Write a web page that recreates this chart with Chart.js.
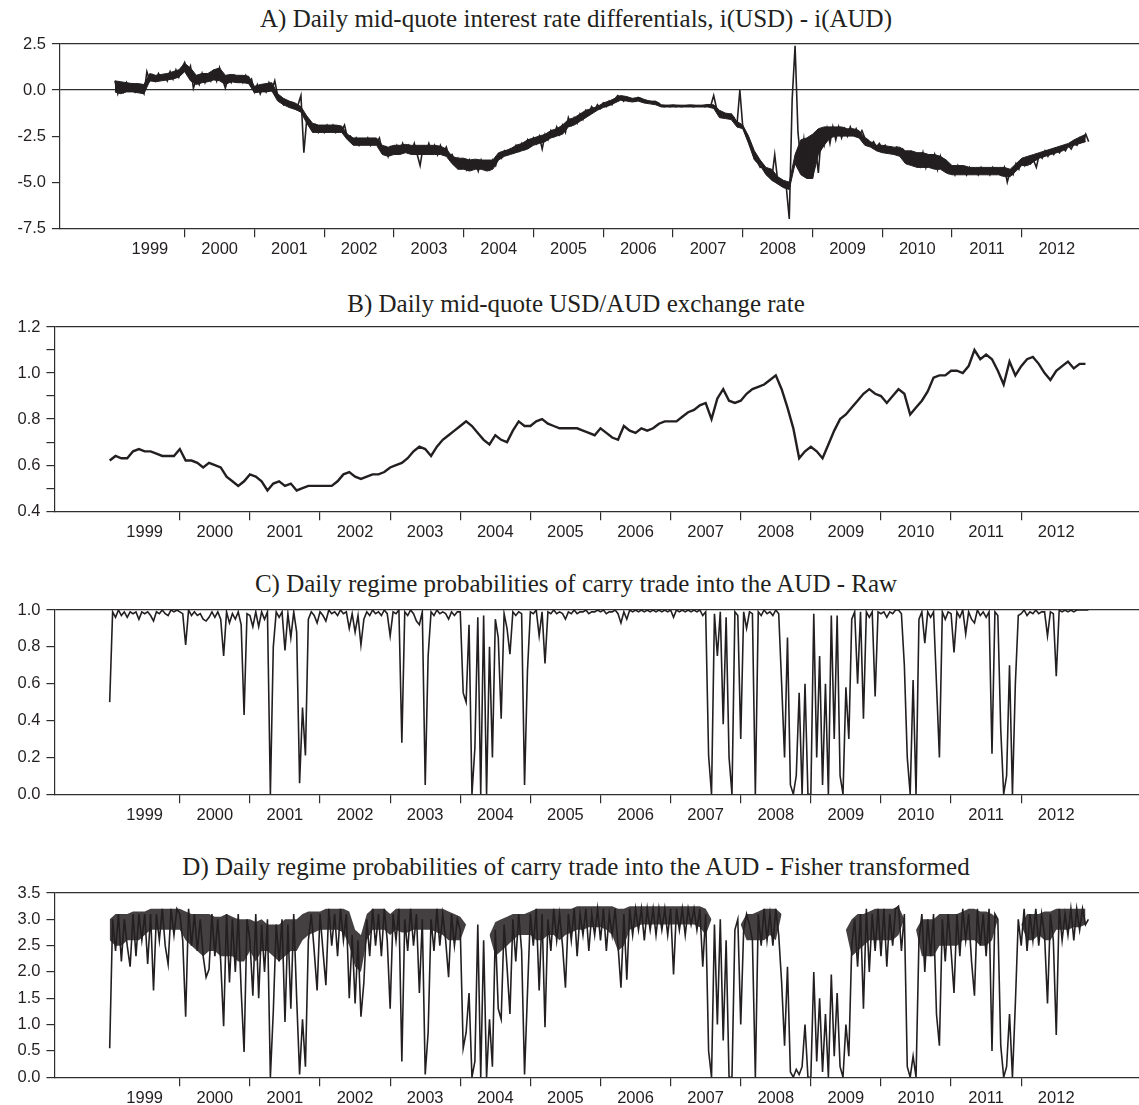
<!DOCTYPE html>
<html>
<head>
<meta charset="utf-8">
<script src="https://cdn.jsdelivr.net/npm/chart.js@4/dist/chart.umd.min.js"></script>
<style>
  body { margin: 0; background: #fff; width: 1139px; height: 1105px; position: relative; overflow: hidden; }
  .title { position: absolute; left: 0; width: 1152px; text-align: center; color: #231f20;
           font: 25px/25px 'Liberation Serif', 'Times New Roman', serif; white-space: nowrap; }
  .panel { position: absolute; left: 0; width: 1139px; height: 235px; }
</style>
</head>
<body>
<div class="title" style="top:6px">A) Daily mid-quote interest rate differentials, i(USD) - i(AUD)</div>
<div class="panel" style="top:28px"><canvas id="chartA"></canvas></div>
<div class="title" style="top:291px">B) Daily mid-quote USD/AUD exchange rate</div>
<div class="panel" style="top:311px"><canvas id="chartB"></canvas></div>
<div class="title" style="top:571px">C) Daily regime probabilities of carry trade into the AUD - Raw</div>
<div class="panel" style="top:594px"><canvas id="chartC"></canvas></div>
<div class="title" style="top:854px">D) Daily regime probabilities of carry trade into the AUD - Fisher transformed</div>
<div class="panel" style="top:877px"><canvas id="chartD"></canvas></div>
<script>
// year labels on the time axis
const yearTicks = [1999, 2000, 2001, 2002, 2003, 2004, 2005, 2006, 2007, 2008, 2009, 2010, 2011, 2012];

// A) i(USD) - i(AUD), read off twice a month (high / low swings and spikes)
const diffA = [
  0.5, -0.2, 0.3, -0.1, 0.4, 0.0, 0.3, -0.1, 0.2, 0.1, -0.2, 1.0, 0.5, 0.8, 0.5, 0.9, 0.6, 0.8, 0.5, 1.0, 0.6, 1.1, 0.7, 1.2,
  1.5, 0.9, 1.3, 0.1, 0.6, 0.3, 0.9, 0.4, 0.8, 0.5, 1.0, 0.5, 1.2, 0.6, 0.1, 0.7, 0.4, 0.8, 0.5, 0.7, 0.4, 0.8, 0.4, 0.6,
  -0.1, 0.3, -0.2, 0.2, -0.1, 0.4, 0.0, 0.5, -0.3, -0.5, -0.8, -0.6, -0.9, -0.7, -1.0, -0.8, -0.3, -3.4, -1.6, -1.8, -2.2, -1.9, -2.3, -2.0,
  -2.3, -1.9, -2.2, -1.9, -2.3, -2.0, -2.2, -1.9, -2.6, -2.5, -2.9, -2.6, -3.0, -2.7, -2.9, -2.6, -3.0, -2.7, -2.9, -2.6, -3.3, -3.1, -3.6, -3.1,
  -3.4, -3.0, -3.4, -2.9, -3.3, -3.0, -3.4, -2.9, -3.5, -4.1, -3.1, -3.4, -2.9, -3.4, -3.0, -3.5, -3.0, -3.4, -3.1, -3.6, -3.5, -3.9, -3.7, -4.1,
  -3.8, -4.3, -3.8, -4.2, -3.9, -4.4, -3.8, -4.2, -3.9, -4.3, -3.8, -4.1, -3.5, -3.7, -3.3, -3.5, -3.2, -3.4, -3.0, -3.3, -2.9, -3.2, -2.7, -3.0,
  -2.6, -2.9, -2.5, -3.2, -2.4, -2.7, -2.2, -2.5, -2.0, -2.4, -1.9, -2.3, -1.5, -1.9, -1.5, -1.8, -1.3, -1.6, -1.1, -1.3, -0.9, -1.1, -0.8, -1.0,
  -0.7, -0.9, -0.6, -0.8, -0.5, -0.3, -0.4, -0.6, -0.4, -0.5, -0.5, -0.6, -0.4, -0.45, -0.6, -0.65, -0.6, -0.7, -0.65, -0.7, -0.85, -0.9, -0.85, -0.9,
  -0.85, -0.9, -0.85, -0.9, -0.85, -0.88, -0.85, -0.9, -0.86, -0.88, -0.85, -0.9, -0.8, -0.85, -0.3, -1.0, -1.3, -1.4, -1.3, -1.5, -1.3, -1.5, -1.9, 0.0,
  -2.0, -2.4, -2.8, -3.2, -3.7, -3.9, -4.2, -4.1, -4.5, -4.4, -4.8, -3.5, -4.9, -5.0, -5.2, -5.3, -7.0, -0.5, 2.4, -2.3, -3.9, -2.7, -4.6, -2.8,
  -4.8, -3.0, -4.5, -2.5, -3.0, -2.1, -2.9, -2.0, -2.7, -2.0, -2.6, -2.1, -2.5, -2.0, -2.4, -2.1, -2.5, -2.2, -2.6, -2.7, -3.0, -2.8, -3.1, -2.9,
  -3.2, -3.0, -3.3, -3.1, -3.4, -3.1, -3.3, -3.2, -3.5, -3.8, -3.4, -4.0, -3.5, -4.1, -3.4, -4.2, -3.6, -4.0, -3.5, -4.3, -3.6, -4.2, -3.9, -4.5,
  -4.2, -4.6, -4.1, -4.5, -4.2, -4.6, -4.2, -4.5, -4.3, -4.6, -4.2, -4.5, -4.3, -4.6, -4.2, -4.5, -4.3, -4.6, -4.2, -5.0, -4.4, -4.6, -4.0, -4.3,
  -3.8, -4.1, -3.7, -4.0, -3.8, -4.2, -3.5, -3.7, -3.3, -3.6, -3.3, -3.5, -3.2, -3.4, -3.1, -3.3, -3.0, -3.2, -2.9, -3.0, -2.6, -2.8, -2.4, -2.8
];
// A) upper and lower edge of the dense daily band, monthly
const diffABandTop = [
  0.5, 0.45, 0.4, 0.35, 0.35, 0.3, 0.9, 0.8, 0.85, 0.9, 1.0, 1.1,
  1.45, 1.2, 0.8, 0.9, 0.9, 1.1, 1.2, 0.8, 0.85, 0.8, 0.8, 0.75,
  0.2, 0.3, 0.35, 0.4, -0.2, -0.45, -0.6, -0.7, -0.9, -1.4, -1.8, -1.9,
  -1.9, -1.9, -1.9, -1.95, -2.4, -2.6, -2.6, -2.6, -2.6, -2.6, -3.0, -3.1,
  -3.0, -3.0, -2.95, -3.0, -3.0, -3.0, -3.0, -3.0, -3.05, -3.2, -3.6, -3.7,
  -3.7, -3.8, -3.75, -3.8, -3.8, -3.8, -3.4, -3.3, -3.2, -3.0, -2.9, -2.7,
  -2.6, -2.5, -2.4, -2.2, -2.1, -1.9, -1.6, -1.5, -1.3, -1.1, -1.0, -0.9,
  -0.7, -0.6, -0.45, -0.3, -0.35, -0.45, -0.4, -0.5, -0.6, -0.6, -0.8, -0.82,
  -0.8, -0.82, -0.82, -0.8, -0.82, -0.82, -0.78, -0.8, -1.1, -1.25, -1.3, -1.7,
  -1.9, -2.5, -3.3, -3.8, -4.2, -4.3, -4.7, -4.9, -5.0, -3.5, -2.7, -2.6,
  -2.4, -2.1, -2.0, -2.0, -2.0, -2.0, -2.1, -2.1, -2.2, -2.6, -2.8, -3.0,
  -3.0, -3.05, -3.1, -3.1, -3.3, -3.3, -3.4, -3.4, -3.5, -3.5, -3.6, -3.8,
  -4.1, -4.1, -4.1, -4.2, -4.2, -4.2, -4.2, -4.2, -4.2, -4.2, -4.3, -4.0,
  -3.7, -3.6, -3.5, -3.4, -3.3, -3.2, -3.1, -3.0, -2.9, -2.7, -2.55, -2.4
];
const diffABandBottom = [
  -0.1, -0.2, -0.1, -0.1, -0.15, -0.2, 0.5, 0.45, 0.5, 0.55, 0.6, 0.7,
  1.0, 0.5, 0.3, 0.4, 0.45, 0.55, 0.5, 0.3, 0.45, 0.4, 0.4, 0.35,
  -0.15, -0.1, -0.1, -0.05, -0.6, -0.8, -0.95, -1.05, -1.2, -1.8, -2.3, -2.3,
  -2.3, -2.3, -2.3, -2.3, -2.7, -3.0, -3.0, -3.0, -3.0, -3.0, -3.5, -3.6,
  -3.5, -3.5, -3.4, -3.5, -3.5, -3.5, -3.5, -3.5, -3.5, -3.6, -4.0, -4.3,
  -4.3, -4.4, -4.3, -4.3, -4.4, -4.3, -3.8, -3.6, -3.5, -3.4, -3.3, -3.2,
  -3.0, -2.9, -2.8, -2.6, -2.5, -2.4, -2.0, -1.9, -1.7, -1.5, -1.3, -1.1,
  -0.95, -0.85, -0.7, -0.55, -0.6, -0.65, -0.6, -0.7, -0.75, -0.8, -0.92, -0.92,
  -0.92, -0.92, -0.92, -0.92, -0.92, -0.92, -0.92, -1.0, -1.5, -1.55, -1.6, -2.0,
  -2.1, -2.9, -3.8, -4.1, -4.6, -4.9, -5.1, -5.3, -5.4, -4.0, -4.6, -4.8,
  -4.8, -3.5, -3.0, -2.6, -2.5, -2.5, -2.5, -2.5, -2.6, -3.0, -3.1, -3.3,
  -3.4, -3.45, -3.5, -3.6, -4.0, -4.1, -4.2, -4.2, -4.2, -4.3, -4.3, -4.5,
  -4.6, -4.6, -4.6, -4.6, -4.6, -4.6, -4.6, -4.6, -4.6, -4.7, -4.7, -4.4,
  -4.1, -4.1, -3.9, -3.7, -3.6, -3.5, -3.4, -3.3, -3.1, -3.0, -2.9, -2.8
];

// B) USD/AUD, one reading per month
const fxB = [
  0.62, 0.64, 0.63, 0.63, 0.66, 0.67, 0.66, 0.66, 0.65, 0.64, 0.64, 0.64,
  0.67, 0.62, 0.62, 0.61, 0.59, 0.61, 0.60, 0.59, 0.55, 0.53, 0.51, 0.53,
  0.56, 0.55, 0.53, 0.49, 0.52, 0.53, 0.51, 0.52, 0.49, 0.50, 0.51, 0.51,
  0.51, 0.51, 0.51, 0.53, 0.56, 0.57, 0.55, 0.54, 0.55, 0.56, 0.56, 0.57,
  0.59, 0.60, 0.61, 0.63, 0.66, 0.68, 0.67, 0.64, 0.68, 0.71, 0.73, 0.75,
  0.77, 0.79, 0.77, 0.74, 0.71, 0.69, 0.73, 0.71, 0.70, 0.75, 0.79, 0.77,
  0.77, 0.79, 0.80, 0.78, 0.77, 0.76, 0.76, 0.76, 0.76, 0.75, 0.74, 0.73,
  0.76, 0.74, 0.72, 0.71, 0.77, 0.75, 0.74, 0.76, 0.75, 0.76, 0.78, 0.79,
  0.79, 0.79, 0.81, 0.83, 0.84, 0.86, 0.87, 0.80, 0.89, 0.93, 0.88, 0.87,
  0.88, 0.91, 0.93, 0.94, 0.95, 0.97, 0.99, 0.93, 0.85, 0.76, 0.63, 0.66,
  0.68, 0.66, 0.63, 0.69, 0.75, 0.80, 0.82, 0.85, 0.88, 0.91, 0.93, 0.91,
  0.90, 0.87, 0.90, 0.93, 0.91, 0.82, 0.85, 0.88, 0.92, 0.98, 0.99, 0.99,
  1.01, 1.01, 1.00, 1.03, 1.10, 1.06, 1.08, 1.06, 1.01, 0.95, 1.05, 0.99,
  1.03, 1.06, 1.07, 1.04, 1.00, 0.97, 1.01, 1.03, 1.05, 1.02, 1.04, 1.04
];

// C) raw regime probabilities, twice a month
const rawC = [
  0.5, 0.99, 0.96, 1.0, 0.97, 0.99, 0.96, 0.99, 0.98, 0.99, 0.95, 0.99, 0.98, 0.99, 0.97, 0.94, 0.99, 0.98, 1.0, 0.98, 0.97, 1.0, 0.99, 1.0,
  0.99, 0.98, 0.81, 1.0, 0.97, 0.99, 0.97, 0.98, 0.95, 0.94, 0.96, 0.99, 0.96, 0.99, 0.95, 0.75, 0.99, 0.93, 0.98, 0.95, 0.99, 0.92, 0.43, 0.98,
  0.97, 0.91, 0.99, 0.91, 0.99, 0.95, 0.99, 0.0, 0.8, 0.99, 0.96, 0.99, 0.78, 0.98, 0.85, 0.99, 0.88, 0.06, 0.47, 0.21, 0.95, 0.99, 0.97, 0.93,
  0.99, 0.97, 0.94, 1.0, 0.98, 0.99, 0.97, 1.0, 0.98, 0.99, 0.9, 0.98, 0.88, 0.97, 0.81, 0.95, 0.99, 0.97, 1.0, 0.98, 0.99, 0.97, 1.0, 0.98,
  0.86, 0.99, 0.98, 1.0, 0.28, 0.99, 0.97, 1.0, 0.98, 0.94, 0.92, 0.99, 0.05, 0.75, 0.99, 0.97, 1.0, 0.98, 0.99, 0.98, 0.95, 0.99, 0.97, 0.99,
  0.99, 0.55, 0.5, 0.92, 0.0, 0.25, 0.96, 0.0, 0.97, 0.0, 0.8, 0.2, 0.95, 0.85, 0.41, 0.98, 0.9, 0.76, 0.99, 0.97, 0.99, 0.98, 0.05, 0.67,
  0.99, 0.98, 1.0, 0.86, 0.99, 0.71, 0.99, 0.98, 1.0, 0.98, 0.99, 0.98, 0.95, 0.99, 0.98, 1.0, 0.98, 0.99, 0.99, 1.0, 0.98, 0.99, 0.99, 1.0,
  0.99, 1.0, 0.98, 0.99, 0.99, 1.0, 0.98, 0.93, 0.99, 0.95, 1.0, 0.99, 1.0, 0.99, 1.0, 0.99, 1.0, 0.99, 1.0, 0.99, 1.0, 0.99, 1.0, 0.99,
  1.0, 0.96, 1.0, 0.99, 1.0, 0.99, 1.0, 0.99, 1.0, 0.99, 1.0, 0.97, 0.99, 0.21, 0.0, 0.98, 0.75, 0.99, 0.38, 0.96, 0.2, 0.0, 0.99, 0.97,
  0.3, 0.99, 0.9, 0.99, 0.98, 0.0, 0.99, 0.97, 1.0, 0.98, 0.99, 0.97, 1.0, 0.98, 0.6, 0.2, 0.85, 0.05, 0.0, 0.1, 0.55, 0.0, 0.6, 0.0,
  0.0, 0.98, 0.2, 0.75, 0.05, 0.6, 0.0, 0.97, 0.3, 0.97, 0.1, 0.0, 0.58, 0.3, 0.95, 0.99, 0.6, 0.99, 0.41, 0.99, 0.96, 0.99, 0.53, 0.99,
  0.98, 0.99, 0.96, 0.99, 0.98, 1.0, 1.0, 0.98, 0.7, 0.2, 0.0, 0.62, 0.0, 0.95, 0.99, 0.82, 0.99, 0.96, 0.99, 0.6, 0.2, 0.99, 0.95, 0.99,
  0.98, 0.77, 0.99, 0.96, 1.0, 0.87, 0.99, 0.95, 0.93, 1.0, 0.97, 0.99, 0.96, 0.99, 0.22, 0.99, 0.97, 0.35, 0.0, 0.1, 0.7, 0.0, 0.6, 0.97,
  0.98, 1.0, 0.97, 0.99, 0.98, 1.0, 0.98, 0.99, 0.99, 0.86, 0.99, 0.98, 0.64, 1.0, 0.99, 1.0, 0.99, 1.0, 0.99, 1.0, 1.0, 1.0, 1.0, 1.0
];

// D) Fisher transformed probabilities, twice a month
const fisherD = [
  0.55, 3.0, 2.4, 3.1, 2.2, 3.0, 2.5, 2.1, 3.1, 2.3, 3.1, 2.6, 3.1, 2.15, 3.1, 1.65, 3.1, 2.6, 3.2, 2.5, 2.15, 3.2, 2.7, 3.2,
  3.1, 2.6, 1.15, 3.2, 2.5, 3.1, 2.4, 3.0, 2.3, 1.9, 2.05, 3.1, 2.3, 3.0, 2.2, 0.97, 3.1, 1.8, 3.0, 2.0, 3.1, 1.65, 0.48, 3.0,
  2.6, 1.55, 3.1, 1.5, 2.9, 2.0, 3.0, 0.0, 1.25, 2.9, 2.2, 3.0, 1.05, 2.9, 1.3, 3.1, 1.5, 0.05, 1.1, 0.2, 2.6, 3.1, 2.4, 1.65,
  3.1, 2.4, 1.75, 3.2, 2.5, 3.1, 2.3, 3.2, 2.6, 3.1, 1.5, 2.7, 1.4, 2.6, 1.15, 1.8, 3.0, 2.3, 3.2, 2.5, 3.1, 2.3, 3.2, 2.6,
  1.3, 3.1, 2.6, 3.2, 0.3, 3.0, 2.4, 3.2, 2.5, 3.1, 1.6, 3.0, 0.05, 0.85, 3.0, 2.4, 3.2, 2.5, 3.1, 2.6, 1.9, 3.1, 2.5, 3.0,
  2.8, 0.55, 0.85, 1.6, 0.0, 0.3, 2.9, 0.0, 2.6, 0.0, 1.1, 0.2, 2.8, 1.3, 1.1, 2.9, 2.1, 1.2, 3.0, 2.2, 3.1, 2.4, 0.05, 1.6,
  3.1, 2.5, 3.2, 1.65, 3.1, 0.95, 3.0, 2.4, 3.2, 2.6, 3.1, 2.5, 1.7, 3.1, 2.6, 3.2, 2.3, 3.1, 2.7, 3.2, 2.4, 3.1, 2.7, 3.2,
  2.6, 3.2, 2.4, 3.1, 2.7, 3.2, 2.5, 1.7, 3.1, 1.85, 3.2, 2.7, 3.2, 2.8, 3.2, 2.6, 3.2, 2.8, 3.2, 2.7, 3.2, 2.8, 3.2, 2.7,
  3.2, 1.95, 3.2, 2.8, 3.2, 2.7, 3.2, 2.9, 3.2, 2.8, 3.2, 2.1, 3.1, 0.5, 0.0, 2.9, 1.0, 3.0, 0.7, 2.6, 0.0, 0.0, 2.8, 3.0,
  1.0, 2.8, 3.1, 2.9, 2.6, 0.0, 3.1, 2.5, 3.2, 2.6, 3.1, 2.5, 3.2, 2.7, 1.8, 0.6, 2.1, 0.1, 0.0, 0.15, 0.05, 0.2, 1.0, 0.0,
  0.0, 2.0, 0.3, 1.5, 0.1, 1.2, 0.0, 1.95, 0.4, 1.6, 0.2, 0.0, 1.0, 0.4, 2.5, 3.0, 2.1, 3.1, 1.3, 3.2, 2.0, 3.1, 2.4, 3.2,
  2.3, 3.2, 2.1, 3.1, 2.5, 3.2, 3.25, 2.4, 3.1, 0.2, 0.0, 0.4, 0.0, 2.6, 3.1, 2.0, 3.0, 2.3, 3.1, 1.2, 0.6, 3.0, 2.2, 3.1,
  2.4, 1.6, 3.1, 2.3, 3.2, 2.6, 3.1, 2.2, 1.55, 3.2, 2.5, 3.1, 2.3, 3.2, 0.5, 3.1, 3.0, 0.6, 0.0, 0.2, 1.2, 0.0, 1.4, 3.0,
  2.5, 3.2, 2.4, 3.1, 2.6, 3.2, 2.5, 3.1, 2.7, 1.4, 3.1, 2.6, 0.8, 3.2, 2.6, 3.1, 2.7, 3.2, 2.6, 3.2, 2.8, 3.2, 2.9, 3.0
];
// D) upper and lower edge of the dense daily band, monthly (null where it breaks)
const fisherDBandTop = [
  3.0, 3.1, 3.1, 3.1, 3.15, 3.15, 3.15, 3.2, 3.2, 3.2, 3.2, 3.2,
  3.2, 3.15, 3.1, 3.1, 3.1, 3.1, 3.05, 3.05, 3.1, 3.05, 3.0, 3.0,
  3.0, 2.95, 3.0, 2.9, 2.9, 2.9, 3.0, 3.0, 3.0, 3.1, 3.15, 3.15,
  3.15, 3.2, 3.2, 3.2, 3.2, 3.15, 2.8, 2.7, 3.1, 3.2, 3.2, 3.2,
  3.1, 3.2, 3.2, 3.2, 3.2, 3.2, 3.2, 3.2, 3.2, 3.2, 3.15, 3.1,
  3.05, 2.9, null, null, null, 2.7, 2.95, 3.0, 3.05, 3.1, 3.1, 3.1,
  3.15, 3.2, 3.2, 3.2, 3.2, 3.2, 3.2, 3.2, 3.25, 3.25, 3.25, 3.25,
  3.25, 3.25, 3.25, 3.2, 3.2, 3.25, 3.25, 3.25, 3.25, 3.25, 3.25, 3.25,
  3.25, 3.25, 3.25, 3.25, 3.25, 3.25, 3.2, 3.0, null, null, null, null,
  2.9, 3.1, 3.1, 3.15, 3.2, 3.2, 3.2, 3.1, null, null, null, null,
  null, null, null, null, null, null, 2.8, 3.0, 3.1, 3.1, 3.15, 3.2,
  3.2, 3.2, 3.2, 3.25, 3.0, null, 2.8, 3.0, 3.0, 3.0, 3.1, 3.1,
  3.1, 3.1, 3.15, 3.2, 3.2, 3.15, 3.15, 3.1, 3.0, null, null, null,
  2.9, 3.1, 3.1, 3.1, 3.15, 3.15, 3.2, 3.2, 3.2, 3.2, 3.2, 3.2
];
const fisherDBandBottom = [
  2.6, 2.5, 2.5, 2.6, 2.6, 2.6, 2.7, 2.8, 2.8, 2.8, 2.8, 2.8,
  2.8, 2.6, 2.5, 2.4, 2.3, 2.4, 2.4, 2.3, 2.3, 2.3, 2.2, 2.2,
  2.4, 2.2, 2.4, 2.4, 2.3, 2.2, 2.3, 2.4, 2.4, 2.6, 2.7, 2.75,
  2.8, 2.8, 2.8, 2.8, 2.75, 2.5, 2.1, 2.0, 2.6, 2.8, 2.8, 2.8,
  2.7, 2.8, 2.75, 2.75, 2.8, 2.8, 2.8, 2.8, 2.75, 2.7, 2.6, 2.6,
  2.6, 2.9, null, null, null, 2.7, 2.3, 2.4, 2.5, 2.6, 2.7, 2.7,
  2.7, 2.6, 2.6, 2.7, 2.7, 2.6, 2.7, 2.75, 2.8, 2.8, 2.85, 2.85,
  2.85, 2.8, 2.7, 2.4, 2.5, 2.8, 2.85, 2.9, 2.9, 2.9, 2.9, 2.9,
  2.9, 2.9, 2.9, 2.9, 2.9, 2.85, 2.7, 3.0, null, null, null, null,
  2.9, 2.6, 2.6, 2.6, 2.6, 2.7, 2.6, 3.1, null, null, null, null,
  null, null, null, null, null, null, 2.8, 2.3, 2.4, 2.5, 2.6, 2.6,
  2.6, 2.6, 2.6, 2.7, 3.0, null, 2.8, 2.3, 2.3, 2.3, 2.5, 2.5,
  2.5, 2.5, 2.6, 2.6, 2.6, 2.5, 2.5, 2.6, 3.0, null, null, null,
  2.9, 2.6, 2.6, 2.7, 2.6, 2.6, 2.8, 2.8, 2.8, 2.85, 2.85, 2.9
];

// y-axis ticks (labelled ones listed separately)
const yTicksA = [-7.5, -5.0, -2.5, 0.0, 2.5];
const yTicksB = [0.4, 0.5, 0.6, 0.7, 0.8, 0.9, 1.0, 1.1, 1.2];
const yLabelsB = [0.4, 0.6, 0.8, 1.0, 1.2];
const yTicksC = [0.0, 0.2, 0.4, 0.6, 0.8, 1.0];
const yTicksD = [0.0, 0.5, 1.0, 1.5, 2.0, 2.5, 3.0, 3.5];

const INK = '#231f20';
const AXIS = '#2e2e2e';
const NONE = 'rgba(0,0,0,0)';
const tickFont = { family: "'Liberation Sans', Arial, sans-serif", size: 16.5 };

function toPoints(values, perYear) {
  return values.map((v, i) => ({ x: 1999 + i / perYear, y: v }));
}

function near(a, b) { return Math.abs(a - b) < 1e-6; }

function lineSet(points, width) {
  return { data: points, borderColor: INK, borderWidth: width, pointRadius: 0, tension: 0, fill: false };
}

// dense daily noise drawn as a filled band between two monthly edges
function bandSets(top, bottom, shade, edge) {
  return [
    { data: toPoints(top, 12), borderColor: shade, borderWidth: edge, backgroundColor: shade, pointRadius: 0, tension: 0, fill: '+1' },
    { data: toPoints(bottom, 12), borderColor: shade, borderWidth: edge, pointRadius: 0, tension: 0, fill: false }
  ];
}

function makePanel(id, datasets, cfg) {
  const yMin = cfg.ticks[0], yMax = cfg.ticks[cfg.ticks.length - 1];
  const labelled = cfg.labels || cfg.ticks;
  new Chart(document.getElementById(id), {
    type: 'line',
    data: { datasets: datasets },
    options: {
      responsive: true, maintainAspectRatio: false, animation: false,
      layout: { padding: { left: 11.5, right: 0, top: 16, bottom: 2 } },
      plugins: { legend: { display: false }, tooltip: { enabled: false } },
      scales: {
        x: {
          type: 'linear', min: 1998.212, max: 2013.68,
          afterBuildTicks: s => { s.ticks = yearTicks.map(v => ({ value: v })); },
          ticks: { callback: v => String(v), labelOffset: 35, autoSkip: false, maxRotation: 0, padding: 2, color: INK, font: tickFont },
          grid: { drawOnChartArea: false, tickLength: 9, lineWidth: 1.2,
                  tickColor: c => (c.tick && c.tick.value === yearTicks[0]) ? NONE : AXIS },
          border: { display: true, color: AXIS, width: 1.2 }
        },
        y: {
          min: yMin, max: yMax,
          afterBuildTicks: s => { s.ticks = cfg.ticks.map(v => ({ value: v })); },
          ticks: { autoSkip: false, padding: 6, color: INK, font: tickFont,
                   callback: v => labelled.some(l => near(l, v)) ? v.toFixed(1) : '' },
          grid: { tickLength: 8, lineWidth: 1.2, tickColor: AXIS,
                  color: c => (c.tick && (near(c.tick.value, yMax) || (cfg.zeroLine && near(c.tick.value, 0)))) ? AXIS : NONE },
          border: { display: true, color: AXIS, width: 1.2 }
        }
      }
    }
  });
}

makePanel('chartA', [lineSet(toPoints(diffA, 24), 1.6)].concat(bandSets(diffABandTop, diffABandBottom, INK, 1)),
          { ticks: yTicksA, zeroLine: true });
makePanel('chartB', [lineSet(toPoints(fxB, 12), 2.4)], { ticks: yTicksB, labels: yLabelsB });
makePanel('chartC', [lineSet(toPoints(rawC, 24), 1.6)], { ticks: yTicksC });
makePanel('chartD', [lineSet(toPoints(fisherD, 24), 1.6)].concat(bandSets(fisherDBandTop, fisherDBandBottom, 'rgba(35,31,32,0.85)', 0)),
          { ticks: yTicksD });
</script>
</body>
</html>
